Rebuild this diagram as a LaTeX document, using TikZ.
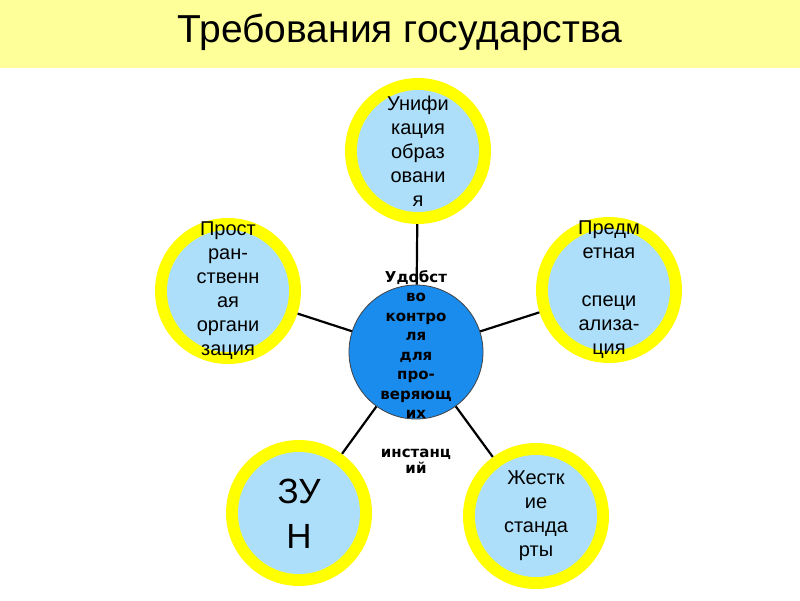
\documentclass[tikz,border=0pt]{standalone}
\usepackage{fontspec}
\setmainfont{Liberation Sans}
\newfontfamily\hubfont{DejaVu Sans}
\usetikzlibrary{positioning}
\definecolor{Band}{RGB}{255,255,153}
\definecolor{Ring}{RGB}{255,255,0}
\definecolor{Pale}{RGB}{173,223,250}
\definecolor{Hub}{RGB}{26,140,238}

\begin{document}
\begin{tikzpicture}[
    x=1pt,
    y=-1pt,
    ring/.style={circle, fill=Ring, minimum size=146pt, inner sep=0pt},
    core/.style={circle, fill=Pale, minimum size=122pt, inner sep=0pt},
    hub/.style={circle, draw=black!75, line width=0.8pt, fill=Hub, minimum size=134pt, inner sep=0pt},
    ringtext/.style={align=center, font=\fontsize{20}{24}\selectfont},
    hubtext/.style={align=center, font=\hubfont\bfseries\fontsize{15}{19.5}\selectfont},
    spoke/.style={line width=2.2pt}
]
  \useasboundingbox (0,0) rectangle (800,600);
  \fill[Band] (0,0) rectangle (800,68);
  \node[anchor=base, font=\fontsize{39}{39}\selectfont] (title) at (400,42) {Требования государства};

  \node[hub] (hub) at (416,352) {};

  \foreach \n/\x/\y in {unif/418/151, prost/228/291, predm/609/290, zun/299/513, stand/536/516} {
    \node[ring] (\n) at (\x,\y) {};
    \node[core] (\n-in) at (\n) {};
  }

  \node[ringtext] (unif-txt) at (unif) {Унифи\\кация\\образ\\овани\\я};
  \node[ringtext] (prost-txt) at (prost) {Прост\\ран-\\ственн\\ая\\органи\\зация};
  \node[ringtext] (predm-txt) at (predm) {Предм\\етная\\ \\специ\\ализа-\\ция};
  \node[align=center, font=\fontsize{35}{45}\selectfont] (zun-txt) at (299,514) {ЗУ\\Н};
  \node[ringtext] (stand-txt) at (stand) {Жестк\\ие\\станда\\рты};

  \node[hubtext] (hub-txt) at (416,372) {Удобст\\во\\контро\\ля\\для\\про-\\веряющ\\их\\ \\инстанц\\[-4pt]ий};

  \foreach \n in {unif,prost,predm,zun,stand} {
    \draw[spoke] (hub) -- (\n);
  }
\end{tikzpicture}
\end{document}
